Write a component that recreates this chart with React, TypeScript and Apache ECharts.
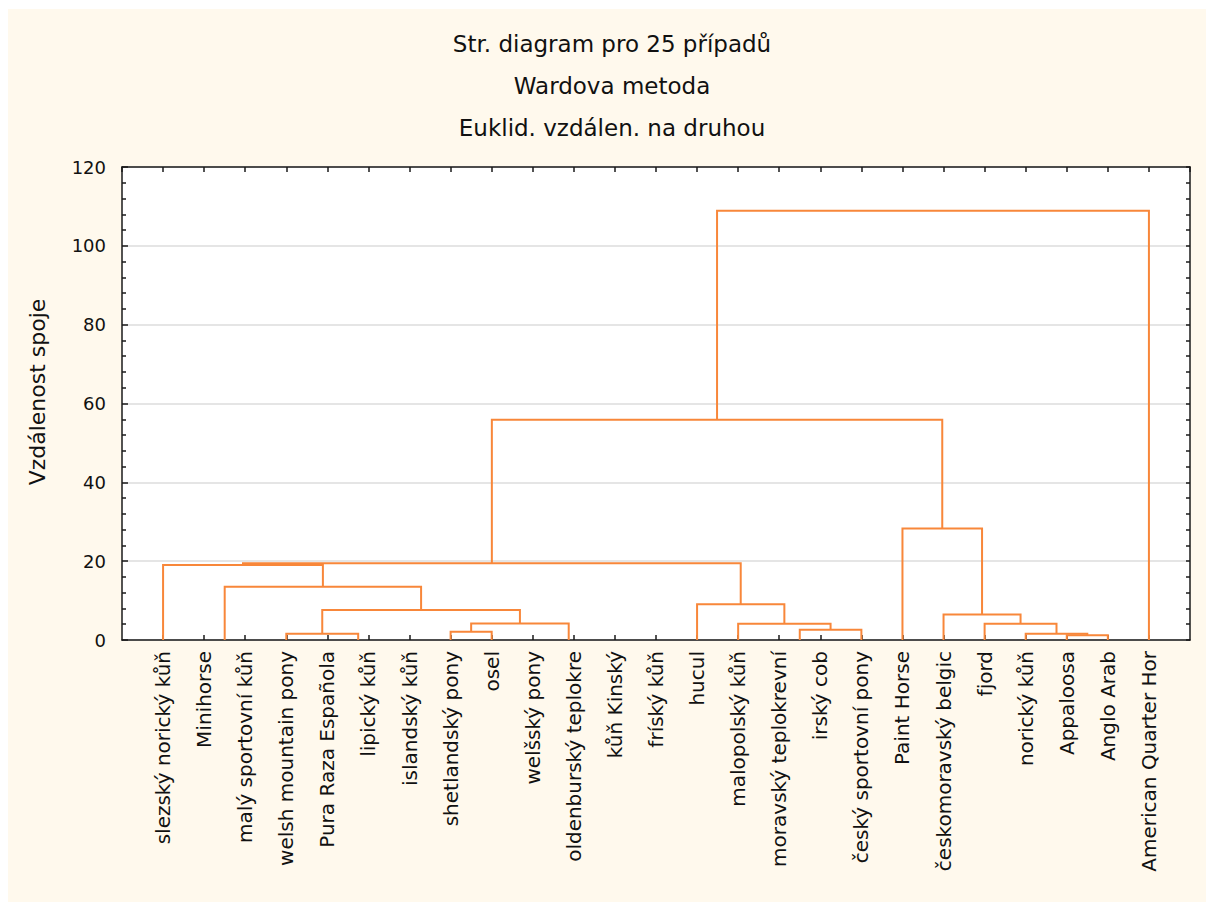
import React, { useEffect, useRef } from "react";
import * as echarts from "echarts";

// ---------- data ----------
const titleLines = ["Str. diagram pro 25 případů", "Wardova metoda", "Euklid. vzdálen. na druhou"];
const yAxisName = "Vzdálenost spoje";

const leafNames = [
  "slezský norický kůň",
  "Minihorse",
  "malý sportovní kůň",
  "welsh mountain pony",
  "Pura Raza Española",
  "lipický kůň",
  "islandský kůň",
  "shetlandský pony",
  "osel",
  "welšský pony",
  "oldenburský teplokre",
  "kůň Kinský",
  "fríský kůň",
  "hucul",
  "malopolský kůň",
  "moravský teplokrevní",
  "irský cob",
  "český sportovní pony",
  "Paint Horse",
  "českomoravský belgic",
  "fjord",
  "norický kůň",
  "Appaloosa",
  "Anglo Arab",
  "American Quarter Hor",
];

// linkage: ids 0..24 are leaves (in display order), 25+k is the cluster made by merge k
const mergeA = [1, 5, 4, 3, 7, 11, 10, 9, 29, 28, 25, 0, 15, 37, 14, 13, 36, 22, 21, 20, 19, 18, 41, 47];
const mergeB = [2, 6, 26, 27, 8, 12, 30, 31, 32, 33, 34, 35, 16, 17, 38, 39, 40, 23, 42, 43, 44, 45, 46, 24];
const mergeHeight = [0, 0, 0, 1.6, 2.1, 0, 0, 0, 4.2, 7.6, 13.5, 19.0, 0, 2.6, 4.1, 9.1, 19.5, 1.2, 1.6, 4.1, 6.5, 28.3, 55.9, 108.9];

const yMin = 0;
const yMax = 120;
const yInterval = 20;

// ---------- styles ----------
const FONT = "DejaVu Sans";
const LINE_COLOR = "#F8873A";
const AXIS_COLOR = "#1a1a1a";
const CREAM = "#FFF9ED";

function buildLinks() {
  const n = leafNames.length;
  const pos: number[] = [];
  const hgt: number[] = [];
  for (let i = 0; i < n; i++) {
    pos.push(i + 1);
    hgt.push(0);
  }
  const links: { coords: number[][] }[] = [];
  for (let k = 0; k < mergeA.length; k++) {
    const a = mergeA[k];
    const b = mergeB[k];
    const h = mergeHeight[k];
    const pa = pos[a];
    const pb = pos[b];
    pos.push((pa + pb) / 2);
    hgt.push(h);
    if (h > 0) {
      links.push({
        coords: [
          [pa, hgt[a]],
          [pa, h],
          [pb, h],
          [pb, hgt[b]],
        ],
      });
    }
  }
  return links;
}

export default function App() {
  const ref = useRef<HTMLDivElement>(null);

  useEffect(() => {
    if (!ref.current) return;
    const chart = echarts.init(ref.current, undefined, { renderer: "svg" });
    const n = leafNames.length;
    const links = buildLinks();

    const tickStyle = { color: AXIS_COLOR, width: 1.5 };
    const axisLine = { show: true, onZero: false, lineStyle: { color: AXIS_COLOR, width: 1.5 } };

    const option: any = {
      animation: false,
      backgroundColor: CREAM,
      grid: {
        left: 114,
        right: 16,
        top: 158,
        bottom: 262,
        show: true,
        backgroundColor: "#ffffff",
        borderWidth: 0,
      },
      xAxis: [
        {
          type: "value",
          position: "bottom",
          min: 0,
          max: n + 1,
          interval: 1,
          axisLine,
          axisTick: { show: true, inside: true, length: 5, lineStyle: tickStyle },
          splitLine: { show: false },
          axisLabel: {
            show: true,
            rotate: 90,
            margin: 11,
            showMinLabel: false,
            showMaxLabel: false,
            color: "#111",
            fontFamily: FONT,
            fontSize: 20,
            formatter: (v: number) => leafNames[v - 1] ?? "",
          },
        },
        {
          type: "value",
          position: "top",
          min: 0,
          max: n + 1,
          interval: 1,
          axisLine,
          axisTick: { show: true, inside: true, length: 5, lineStyle: tickStyle },
          splitLine: { show: false },
          axisLabel: { show: false },
        },
      ],
      yAxis: [
        {
          type: "value",
          position: "left",
          min: yMin,
          max: yMax,
          interval: yInterval,
          axisLine,
          axisTick: { show: true, inside: true, length: 6, lineStyle: tickStyle },
          minorTick: { show: true, splitNumber: 5, length: 4, lineStyle: tickStyle },
          splitLine: { show: true, lineStyle: { color: "#dcdcdc", width: 1.5 } },
          axisLabel: {
            show: true,
            margin: 16,
            color: "#111",
            fontFamily: FONT,
            fontSize: 18,
          },
        },
        {
          type: "value",
          position: "right",
          min: yMin,
          max: yMax,
          interval: yInterval,
          axisLine,
          axisTick: { show: true, inside: true, length: 4, lineStyle: tickStyle },
          minorTick: { show: true, splitNumber: 5, length: 4, lineStyle: tickStyle },
          splitLine: { show: false },
          axisLabel: { show: false },
        },
      ],
      graphic: [
        ...titleLines.map((t, i) => ({
          type: "text",
          x: 604,
          y: 35 + i * 42,
          style: {
            text: t,
            fontFamily: FONT,
            fontSize: 23,
            fill: "#111",
            align: "center",
            verticalAlign: "middle",
          },
        })),
        {
          type: "text",
          x: 29,
          y: 383,
          rotation: Math.PI / 2,
          style: {
            text: yAxisName,
            fontFamily: FONT,
            fontSize: 22,
            fill: "#111",
            align: "center",
            verticalAlign: "middle",
          },
        },
      ],
      series: [
        {
          type: "lines",
          coordinateSystem: "cartesian2d",
          polyline: true,
          silent: true,
          z: 3,
          lineStyle: { color: LINE_COLOR, width: 2, opacity: 1 },
          data: links,
        },
      ],
    };

    chart.setOption(option);
    return () => chart.dispose();
  }, []);

  return (
    <div style={{ position: "fixed", left: 0, top: 0, width: 1206, height: 902, background: "#ffffff" }}>
      <div ref={ref} style={{ position: "absolute", left: 8, top: 9, width: 1198, height: 893 }} />
    </div>
  );
}
